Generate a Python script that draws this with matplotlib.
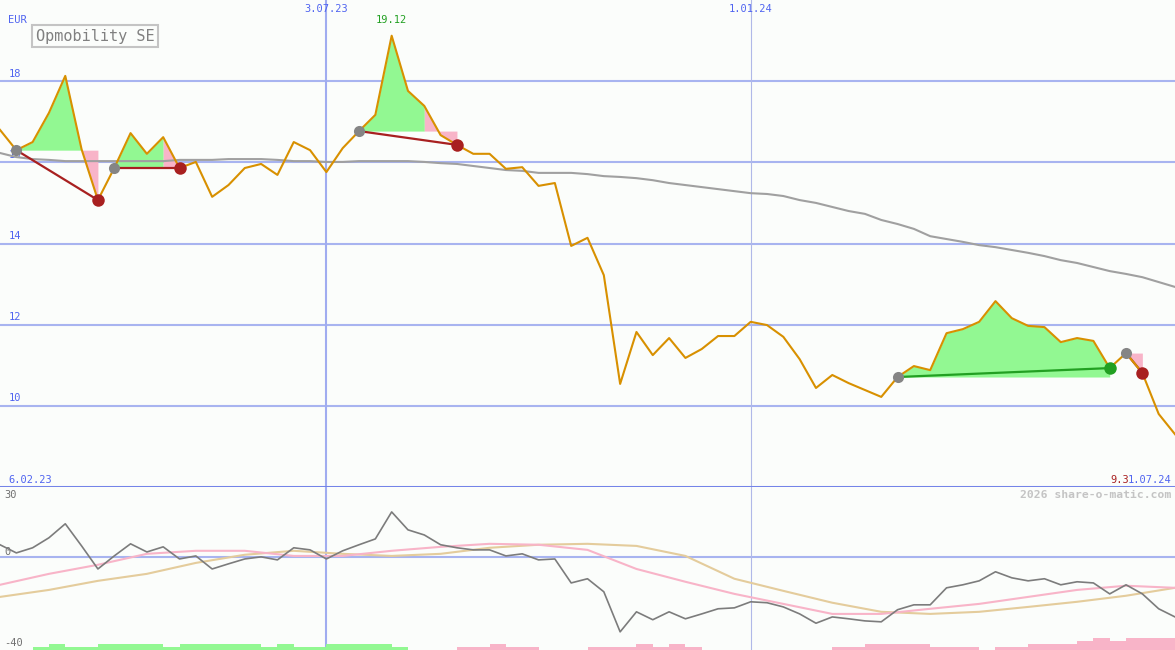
import matplotlib.pyplot as plt
import matplotlib.transforms as mtransforms

# weekly closes, 13.02.23 .. 1.07.24 (index = week number)
price = [16.80, 16.30, 16.50, 17.22, 18.13, 16.32, 15.07, 15.86, 16.72, 16.21,
         16.62, 15.86, 16.01, 15.15, 15.44, 15.86, 15.96, 15.69, 16.50, 16.30,
         15.76, 16.35, 16.77, 17.17, 19.12, 17.76, 17.39, 16.67, 16.43, 16.21,
         16.21, 15.84, 15.88, 15.42, 15.49, 13.94, 14.14, 13.22, 10.54, 11.82,
         11.25, 11.67, 11.18, 11.40, 11.72, 11.72, 12.07, 11.99, 11.70, 11.15,
         10.44, 10.76, 10.56, 10.39, 10.22, 10.71, 10.98, 10.88, 11.79, 11.89,
         12.07, 12.58, 12.16, 11.97, 11.94, 11.57, 11.67, 11.60, 10.93, 11.30,
         10.81, 9.80, 9.30]

avg200 = [16.23, 16.13, 16.08, 16.06, 16.03, 16.03, 16.03, 16.03, 16.03, 16.03,
          16.03, 16.06, 16.06, 16.06, 16.08, 16.08, 16.08, 16.06, 16.03, 16.03,
          16.01, 16.01, 16.03, 16.03, 16.03, 16.03, 16.01, 15.98, 15.96, 15.91,
          15.86, 15.81, 15.79, 15.74, 15.74, 15.74, 15.71, 15.66, 15.64, 15.61,
          15.56, 15.49, 15.44, 15.39, 15.34, 15.29, 15.24, 15.22, 15.17, 15.07,
          15.00, 14.90, 14.80, 14.73, 14.58, 14.48, 14.36, 14.18, 14.11, 14.04,
          13.96, 13.91, 13.84, 13.77, 13.69, 13.59, 13.52, 13.42, 13.32, 13.25,
          13.17, 13.05, 12.93]

# (entry week, exit week)
trades = [(1, 6), (7, 11), (22, 28), (55, 68), (69, 70)]

# lower panel
momentum = [5.2, 1.7, 3.9, 8.2, 14.2, 4.7, -5.2, 0.4, 5.6, 2.1,
            4.3, -0.9, 0.4, -5.2, -3.0, -0.9, 0.0, -1.3, 3.9, 3.0,
            -0.9, 2.6, 5.2, 7.7, 19.3, 11.6, 9.4, 5.2, 3.9, 3.0,
            3.0, 0.4, 1.3, -1.3, -0.9, -11.2, -9.4, -15.0, -32.2, -23.6,
            -27.0, -23.6, -26.6, -24.5, -22.3, -21.9, -19.3, -19.7, -21.5, -24.5,
            -28.5, -25.8, -26.6, -27.5, -27.9, -22.7, -20.6, -20.6, -13.3, -12.0,
            -10.3, -6.4, -9.0, -10.3, -9.4, -12.0, -10.7, -11.2, -15.9, -12.0,
            -15.9, -22.3, -25.8]
slow_weeks = list(range(0, 73, 3))
signal_fast = [-12.0, -7.3, -3.4, 1.3, 2.6, 2.6, 0.4, 0.4, 2.6, 4.3, 5.6, 5.2, 3.0,
               -5.2, -10.7, -15.9, -20.2, -24.5, -24.5, -22.3, -20.2, -17.2, -14.2,
               -12.4, -13.3]
signal_slow = [-17.2, -14.2, -10.3, -7.3, -2.6, 0.9, 2.6, 1.3, 0.4, 1.3, 3.9, 5.2, 5.6,
               4.7, 0.4, -9.4, -14.6, -19.7, -23.6, -24.5, -23.6, -21.5, -19.3, -16.7,
               -13.3]
# bar heights: positive = green, negative = pink
bar_weeks = list(range(2, 25)) + [28, 29, 30, 31, 32, 36, 37, 38, 39, 40, 41, 42,
                                   51, 52, 53, 54, 55, 56, 57, 58, 59, 61, 62, 63,
                                   64, 65, 66, 67, 68, 69, 70, 71]
bar_size = [1.3, 2.6, 1.3, 1.3, 2.6, 2.6, 2.6, 2.6, 1.3, 2.6, 2.6, 2.6, 2.6, 2.6,
            1.3, 2.6, 1.3, 1.3, 2.6, 2.6, 2.6, 2.6, 1.3,
            -1.3, -1.3, -2.6, -1.3, -1.3, -1.3, -1.3, -1.3, -2.6, -1.3, -2.6, -1.3,
            -1.3, -1.3, -2.6, -2.6, -2.6, -2.6, -1.3, -1.3, -1.3, -1.3, -1.3, -2.6,
            -2.6, -2.6, -3.9, -5.2, -3.9, -5.2, -5.2, -5.2]

BG = '#fbfdfb'
BLUE_TXT = '#5064f0'
GRID = '#a8b4f0'
ORANGE = '#d89000'
GREEN_FILL = '#92f892'
PINK_FILL = '#f8b4c8'
RED = '#a82020'
GREEN = '#22a022'
MONO = 'DejaVu Sans Mono'

fig = plt.figure(figsize=(11.75, 6.5), dpi=100, facecolor=BG)
ax = fig.add_axes([0, 163 / 650, 1, 487 / 650], facecolor=BG)
ax2 = fig.add_axes([0, 0, 1, 163 / 650], facecolor=BG)
for a in (ax, ax2):
    a.set_xlim(0, 72)
    a.set_xticks([])
    a.set_yticks([])
    for s in a.spines.values():
        s.set_visible(False)
ax.set_ylim(8, 20)
ax2.set_ylim(-40, 30)

weeks = list(range(len(price)))

# grid
for v in [10, 12, 14, 16, 18]:
    ax.axhline(v, color=GRID, lw=1.5, zorder=1)
ax2.axhline(0, color=GRID, lw=1.5, zorder=1)
for a in (ax, ax2):
    a.axvline(20, color='#a0acf0', lw=1.5, zorder=1)
    a.axvline(46, color='#b0b8e8', lw=0.8, zorder=1)
ax.axhline(8, color='#7484e8', lw=2.2, zorder=6, clip_on=False)

# trade fills: one polygon per run of same-coloured weeks
for e, x in trades:
    lvl = price[e]
    start = e
    for i in range(e, x):
        up = price[i + 1] > lvl
        last = i + 1 == x or (price[i + 2] > lvl) != up
        if last:
            xs = list(range(start, i + 2))
            ax.fill_between(xs, [lvl] * len(xs), price[start:i + 2],
                            color=GREEN_FILL if up else PINK_FILL, lw=0, zorder=2)
            start = i + 1

ax.plot(weeks, avg200, color='#a0a0a0', lw=1.5, zorder=3)

for e, x in trades:
    c = GREEN if price[x] > price[e] else RED
    ax.plot([e, x], [price[e], price[x]], color=c, lw=1.6, zorder=4)

ax.plot(weeks, price, color=ORANGE, lw=1.5, zorder=5)

for e, x in trades:
    c = GREEN if price[x] > price[e] else RED
    ax.plot(e, price[e], 'o', color='#858585', ms=8, mec='none', zorder=6)
    ax.plot(x, price[x], 'o', color=c, ms=9, mec='none', zorder=6)

# labels upper panel
blend = mtransforms.blended_transform_factory(ax.transAxes, ax.transData)
for v in [10, 12, 14, 16, 18]:
    ax.text(0.007, v + 0.06, str(v), transform=blend, color=BLUE_TXT,
            fontsize=7.5, family=MONO, va='bottom', zorder=2)
ax.text(0.007, 19.5, 'EUR', transform=blend, color=BLUE_TXT, fontsize=7.5,
        family=MONO, va='center')
ax.text(20, 19.78, '3.07.23', color=BLUE_TXT, fontsize=7.5, family=MONO,
        ha='center', va='center')
ax.text(46, 19.78, '1.01.24', color=BLUE_TXT, fontsize=7.5, family=MONO,
        ha='center', va='center')
ax.text(24, 19.5, '19.12', color=GREEN, fontsize=7.5, family=MONO,
        ha='center', va='center')
ax.text(0.007, 8.18, '6.02.23', transform=blend, color=BLUE_TXT, fontsize=7.5,
        family=MONO, va='center')
ax.text(0.997, 8.18, '1.07.24', transform=blend, color=BLUE_TXT, fontsize=7.5,
        family=MONO, va='center', ha='right')
ax.text(1129 / 1175, 8.18, '9.3', transform=blend, color=RED, fontsize=7.5,
        family=MONO, va='center', ha='right')

fig.text(95 / 1175, 1 - 36 / 650, 'Opmobility SE', color='#808080', fontsize=11,
         family=MONO, ha='center', va='center',
         bbox=dict(boxstyle='square,pad=0.25', fc='none', ec='#c4c4c4', lw=1.5))

# lower panel
ax2.bar(bar_weeks, [abs(b) for b in bar_size], bottom=-40, width=1.0, align='edge',
        color=[GREEN_FILL if b > 0 else PINK_FILL for b in bar_size], lw=0,
        antialiased=False, zorder=2)
ax2.plot(slow_weeks, signal_slow, color='#e4cc9c', lw=1.5, zorder=3)
ax2.plot(slow_weeks, signal_fast, color='#f8b4c8', lw=1.5, zorder=3)
ax2.plot(weeks, momentum, color='#7c7c7c', lw=1.2, zorder=4)

blend2 = mtransforms.blended_transform_factory(ax2.transAxes, ax2.transData)
ax2.text(0.004, 26.5, '30', transform=blend2, color='#707070', fontsize=7.5,
         family=MONO, va='center')
ax2.text(0.004, 2.0, '0', transform=blend2, color='#707070', fontsize=7.5,
         family=MONO, va='center')
ax2.text(0.004, -37.0, '-40', transform=blend2, color='#707070', fontsize=7.5,
         family=MONO, va='center')
ax2.text(0.997, 26.5, '2026 share-o-matic.com', transform=blend2, color='#c4c4c4',
         fontsize=8.2, family=MONO, fontweight='bold', va='center', ha='right')

fig.savefig('out.png', dpi=100, facecolor=BG)
